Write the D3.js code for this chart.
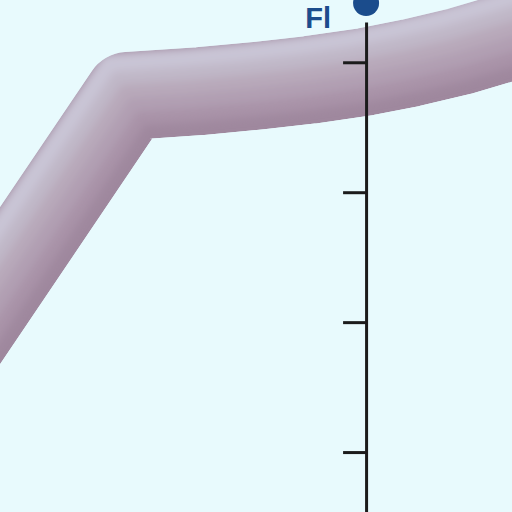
<!DOCTYPE html>
<html>
<head>
<meta charset="utf-8">
<script src="https://cdn.jsdelivr.net/npm/d3@7"></script>
<style>
  html, body { margin: 0; padding: 0; background: #e8fafd; }
  svg { display: block; }
</style>
</head>
<body>
<svg id="chart" width="512" height="512"></svg>
<script>
// route of the band (map units, 0-100 across the view)
const routeX = [-15.6, 25.0, 39.1, 50.8, 60.5, 71.5, 80.1, 89.8, 100, 113.3];
const routeY = [78.9, 18.75, 17.8, 16.7, 15.6, 14.0, 12.3, 10.0, 7.0, 2.7];

// city marker
const cityName = "Fl";
const cityX = 71.5, cityY = 0.6;

// vertical scale on the right
const axisX = 71.5;
const axisTicks = [10, 20, 30, 40];
const axisDomain = [6.9, 50];

// shading layers of the tube: width, shift towards the light side, colour
const layerWidth = [88, 74, 60, 46, 32, 18];
const layerShift = [0, 7, 14, 21, 28, 35];
const layerColor = ["#9f889e", "#a993a8", "#b19fb2", "#b8a9ba", "#c0b7c7", "#c9c5d5"];

const width = 512, height = 512;
const svg = d3.select("#chart");

svg.append("rect").attr("width", width).attr("height", height).attr("fill", "#e8fafd");

const x = d3.scaleLinear().domain([0, 100]).range([0, width]);
const y = d3.scaleLinear().domain([0, 100]).range([0, height]);

const route = d3.zip(routeX, routeY);
const line = d3.line().x(d => x(d[0])).y(d => y(d[1])).curve(d3.curveLinear);

const defs = svg.append("defs");
defs.append("filter").attr("id", "soft")
    .attr("x", "-20%").attr("y", "-20%").attr("width", "140%").attr("height", "140%")
  .append("feGaussianBlur").attr("stdDeviation", 4);

// mask = full band outline so blurred inner layers stay inside
defs.append("mask").attr("id", "bandmask")
  .append("path")
    .attr("d", line(route))
    .attr("fill", "none")
    .attr("stroke", "#fff")
    .attr("stroke-width", layerWidth[0])
    .attr("stroke-linejoin", "round");

// BAND
const band = svg.append("g").attr("mask", "url(#bandmask)");
band.append("path")
    .attr("d", line(route))
    .attr("fill", "none")
    .attr("stroke", layerColor[0])
    .attr("stroke-width", layerWidth[0])
    .attr("stroke-linejoin", "round");

const inner = band.append("g").attr("filter", "url(#soft)");
// light comes from up-left; shift each layer along the bisector normal
inner.selectAll("path")
  .data(d3.range(1, layerWidth.length))
  .join("path")
    .attr("d", line(route))
    .attr("fill", "none")
    .attr("stroke", i => layerColor[i])
    .attr("stroke-width", i => layerWidth[i])
    .attr("stroke-linejoin", "round")
    .attr("transform", i => `translate(${-0.55 * layerShift[i]},${-0.95 * layerShift[i]})`);

// AXIS
const yAxisScale = d3.scaleLinear().domain(axisDomain).range([22, 582]);
const axis = svg.append("g")
    .attr("transform", `translate(${x(axisX)},0)`)
    .call(d3.axisLeft(yAxisScale).tickValues(axisTicks).tickSize(23).tickSizeOuter(0).tickFormat(""));
axis.selectAll("path, line")
    .attr("stroke", "#1b1b1b")
    .attr("stroke-width", 3);

// CITY
svg.append("circle")
    .attr("cx", x(cityX))
    .attr("cy", y(cityY))
    .attr("r", 13)
    .attr("fill", "#1b4c8c");

svg.append("text")
    .attr("x", x(cityX) - 35)
    .attr("y", 28)
    .attr("text-anchor", "end")
    .style("font", "bold 29px 'Liberation Sans', Arial, sans-serif")
    .attr("fill", "#1b4c8c")
    .text(cityName);
</script>
</body>
</html>
